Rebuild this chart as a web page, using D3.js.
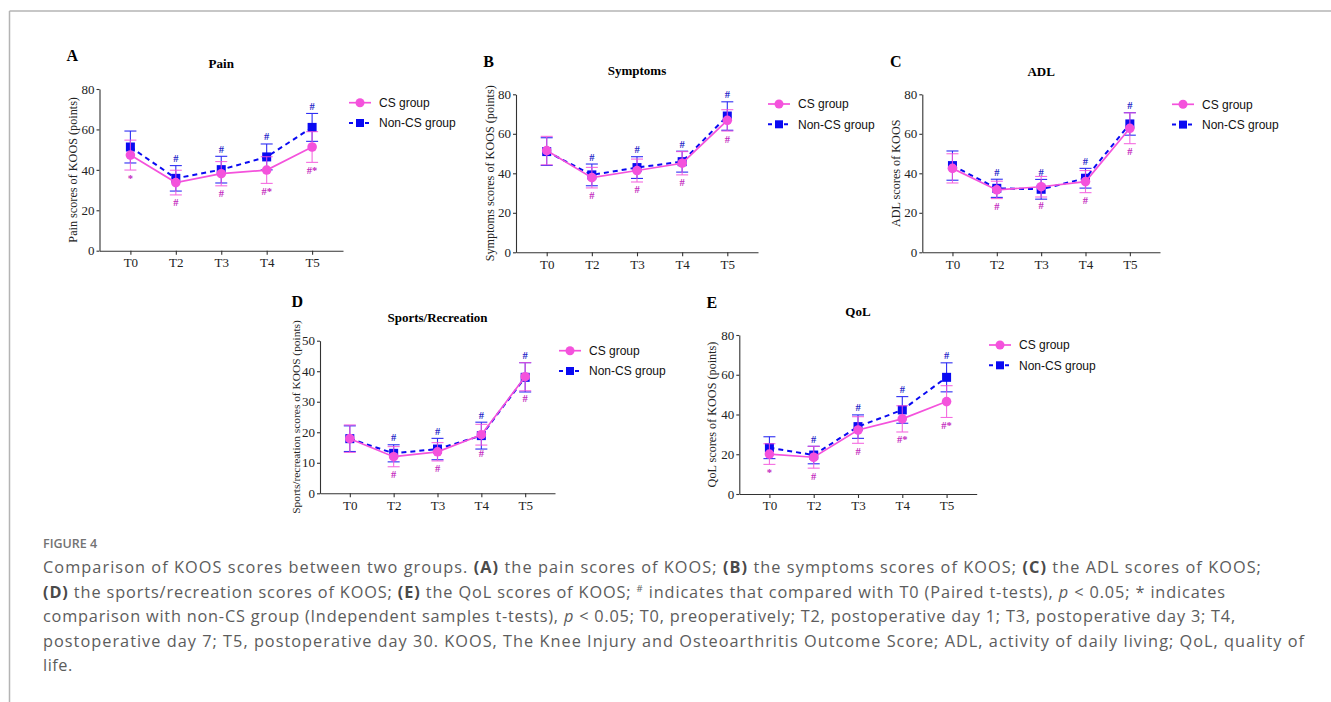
<html>
<head>
  <meta charset="utf-8">
  <script src="https://d3js.org/d3.v7.min.js"></script>
  <style>
    body { margin: 0; background: #fff; }
  </style>
  <script>
    // time points shared by all panels
    var times = ["T0", "T2", "T3", "T4", "T5"];
    var groups = ["CS group", "Non-CS group"];

    // A: pain
    var painCS = [47.3, 33.7, 38.1, 39.9, 51.3];
    var painCSsd = [7.4, 6.1, 6.0, 6.6, 7.6];
    var painNon = [51.3, 35.8, 40.1, 46.4, 61.0];
    var painNonSd = [7.9, 6.3, 6.6, 6.4, 6.9];
    var painCSmark = ["*", "#", "#", "#*", "#*"];
    var painNonMark = ["", "#", "#", "#", "#"];

    // B: symptoms
    var sympCS = [51.5, 37.8, 41.4, 45.1, 66.8];
    var sympCSsd = [7.2, 5.2, 5.8, 5.9, 5.4];
    var sympNon = [51.0, 39.2, 42.9, 45.9, 69.0];
    var sympNonSd = [7.0, 5.5, 5.5, 5.3, 7.2];
    var sympCSmark = ["", "#", "#", "#", "#"];
    var sympNonMark = ["", "#", "#", "#", "#"];

    // C: ADL
    var adlCS = [42.5, 31.6, 33.2, 35.8, 62.8];
    var adlCSsd = [7.4, 4.4, 5.2, 5.6, 7.8];
    var adlNon = [43.9, 32.4, 31.9, 37.5, 65.0];
    var adlNonSd = [7.4, 4.6, 5.0, 5.0, 5.7];
    var adlCSmark = ["", "#", "#", "#", "#"];
    var adlNonMark = ["", "#", "#", "#", "#"];

    // D: sports/recreation
    var sportCS = [17.9, 12.0, 13.6, 19.2, 38.2];
    var sportCSsd = [4.5, 3.3, 3.0, 3.4, 4.6];
    var sportNon = [17.9, 13.1, 14.5, 18.9, 38.0];
    var sportNonSd = [4.2, 2.8, 3.5, 4.4, 4.8];
    var sportCSmark = ["", "#", "#", "#", "#"];
    var sportNonMark = ["", "#", "#", "#", "#"];

    // E: QoL
    var qolCS = [20.1, 18.5, 32.2, 37.8, 46.5];
    var qolCSsd = [5.2, 5.5, 6.7, 6.6, 8.0];
    var qolNon = [23.3, 19.6, 33.9, 42.3, 58.7];
    var qolNonSd = [5.5, 4.4, 5.9, 6.7, 7.3];
    var qolCSmark = ["*", "#", "#", "#*", "#*"];
    var qolNonMark = ["", "#", "#", "#", "#"];

    var captionLines = [
      [["Comparison of KOOS scores between two groups. ", ""], ["(A)", "b"], [" the pain scores of KOOS; ", ""], ["(B)", "b"], [" the symptoms scores of KOOS; ", ""], ["(C)", "b"], [" the ADL scores of KOOS;", ""]],
      [["(D)", "b"], [" the sports/recreation scores of KOOS; ", ""], ["(E)", "b"], [" the QoL scores of KOOS; ", ""], ["#", "sup"], [" indicates that compared with T0 (Paired t-tests), ", "down"], ["p", "i"], [" < 0.05; * indicates", ""]],
      [["comparison with non-CS group (Independent samples t-tests), ", ""], ["p", "i"], [" < 0.05; T0, preoperatively; T2, postoperative day 1; T3, postoperative day 3; T4,", ""]],
      [["postoperative day 7; T5, postoperative day 30. KOOS, The Knee Injury and Osteoarthritis Outcome Score; ADL, activity of daily living; QoL, quality of", ""]],
      [["life.", ""]]
    ];
    // right edge of each caption line in the figure (null = natural width)
    var captionEnds = [1262, 1226, 1236, 1305, null];

    var pink = "#f452dc", blue = "#0a0af2";
    var pinkMark = "#c42cc0", blueMark = "#2626c8";
    var serif = "'Liberation Serif', 'Times New Roman', serif";
    var sans = "'Liberation Sans', Arial, sans-serif";

    function makeFigure() {
      var panels = [
        { letter: "A", title: "Pain", ylab: "Pain scores of KOOS (points)", yMax: 80, yStep: 20,
          cs: painCS, csSd: painCSsd, non: painNon, nonSd: painNonSd, csMk: painCSmark, nonMk: painNonMark,
          x0: 99.5, x1: 343, yTop: 89, yBot: 250.7, letterX: 66.5, letterY: 60.7, titleY: 68.3, labX: 77, lgX: 360, lgY: 102.7 },
        { letter: "B", title: "Symptoms", ylab: "Symptoms scores of KOOS (points)", yMax: 80, yStep: 20,
          cs: sympCS, csSd: sympCSsd, non: sympNon, nonSd: sympNonSd, csMk: sympCSmark, nonMk: sympNonMark,
          x0: 516, x1: 758, yTop: 94.3, yBot: 252.3, letterX: 483.3, letterY: 66.7, titleY: 74.5, labX: 493.5, lgX: 779, lgY: 104 },
        { letter: "C", title: "ADL", ylab: "ADL scores of KOOS", yMax: 80, yStep: 20,
          cs: adlCS, csSd: adlCSsd, non: adlNon, nonSd: adlNonSd, csMk: adlCSmark, nonMk: adlNonMark,
          x0: 922.3, x1: 1160, yTop: 94.3, yBot: 252.3, letterX: 890, letterY: 67.3, titleY: 76, labX: 900, lgX: 1183, lgY: 104.3 },
        { letter: "D", title: "Sports/Recreation", ylab: "Sports/recreation scores of KOOS (points)", yMax: 50, yStep: 10,
          cs: sportCS, csSd: sportCSsd, non: sportNon, nonSd: sportNonSd, csMk: sportCSmark, nonMk: sportNonMark,
          x0: 320, x1: 555, yTop: 340.7, yBot: 493.3, letterX: 291.5, letterY: 307, titleY: 322, labX: 300, lgX: 570, lgY: 350.7 },
        { letter: "E", title: "QoL", ylab: "QoL scores of KOOS (points)", yMax: 80, yStep: 20,
          cs: qolCS, csSd: qolCSsd, non: qolNon, nonSd: qolNonSd, csMk: qolCSmark, nonMk: qolNonMark,
          x0: 739.3, x1: 976.7, yTop: 335, yBot: 494, letterX: 706.5, letterY: 308, titleY: 316, labX: 715.5, lgX: 1000, lgY: 345 }
      ];

      var svg = d3.select("#fig");

      // frame lines top and left
      svg.append("line").attr("x1", 9.5).attr("x2", 1331).attr("y1", 11).attr("y2", 11)
        .attr("stroke", "#b4b4b4").attr("stroke-width", 1.5);
      svg.append("line").attr("x1", 9.5).attr("x2", 9.5).attr("y1", 11).attr("y2", 702)
        .attr("stroke", "#b4b4b4").attr("stroke-width", 1.5);

      panels.forEach(function(p) { drawPanel(svg, p); });

      // caption
      svg.append("text").attr("x", 43).attr("y", 548).text("FIGURE 4")
        .attr("font-family", "'Open Sans', sans-serif").attr("font-size", 12.5)
        .attr("font-weight", 600).attr("fill", "#737373");

      var baseY = [573, 597.5, 622, 646.5, 671];
      captionLines.forEach(function(line, i) {
        var t = svg.append("text").attr("x", 43).attr("y", baseY[i])
          .attr("font-family", "'Open Sans', sans-serif").attr("font-size", 16.3).attr("fill", "#5c5c5c");
        line.forEach(function(seg) {
          var s = t.append("tspan").text(seg[0]);
          if (seg[1] === "b") s.attr("font-weight", 700).attr("fill", "#4a4a4a");
          if (seg[1] === "i") s.attr("font-style", "italic");
          if (seg[1] === "sup") s.attr("font-size", 9.5).attr("dy", -6);
          if (seg[1] === "down") s.attr("dy", 6);
        });
        // stretch letter spacing so the line spans the same width as in the figure
        var ls = 0.55;
        if (captionEnds[i]) {
          var w = t.node().getComputedTextLength();
          ls = (captionEnds[i] - 43 - w) / t.text().length;
        }
        t.attr("letter-spacing", ls);
      });
    }

    function drawPanel(svg, p) {
      var x = d3.scalePoint().domain(times).range([p.x0, p.x1]).padding(0.68);
      var y = d3.scaleLinear().domain([0, p.yMax]).range([p.yBot, p.yTop]);
      var g = svg.append("g");

      // panel letter and title
      g.append("text").attr("x", p.letterX).attr("y", p.letterY).text(p.letter)
        .attr("font-family", serif).attr("font-weight", 700).attr("font-size", 16);
      g.append("text").attr("x", (p.x0 + p.x1) / 2).attr("y", p.titleY).text(p.title)
        .attr("text-anchor", "middle").attr("font-family", serif).attr("font-weight", 700).attr("font-size", 13);
      g.append("text").attr("transform", "translate(" + p.labX + "," + (p.yTop + p.yBot) / 2 + ") rotate(-90)")
        .attr("text-anchor", "middle").attr("font-family", serif).attr("font-size", p.letter === "D" ? 11.4 : 12.2)
        .attr("fill", "#222").text(p.ylab);

      // axes
      var ya = g.append("g").attr("transform", "translate(" + p.x0 + ",0)")
        .call(d3.axisLeft(y).tickValues(d3.range(0, p.yMax + 1, p.yStep)).tickSize(3).tickSizeOuter(0).tickPadding(2));
      var xa = g.append("g").attr("transform", "translate(0," + p.yBot + ")")
        .call(d3.axisBottom(x).tickSize(4).tickSizeOuter(0).tickPadding(3));
      [ya, xa].forEach(function(a) {
        a.attr("font-family", serif).attr("font-size", 13);
        a.selectAll("path, line").attr("stroke", "#333").attr("stroke-width", 1.1);
        a.selectAll("text").attr("fill", "#222");
      });

      var series = [
        { mean: p.non, sd: p.nonSd, mk: p.nonMk, color: blue, mcol: blueMark, dash: "5,4", above: true, sq: true },
        { mean: p.cs, sd: p.csSd, mk: p.csMk, color: pink, mcol: pinkMark, dash: null, above: false, sq: false }
      ];

      series.forEach(function(s) {
        var pts = times.map(function(t, i) { return { t: t, m: s.mean[i], sd: s.sd[i], mk: s.mk[i] }; });
        var sg = g.append("g");

        // error bars
        var eb = sg.selectAll(".eb").data(pts).enter().append("g").attr("stroke", s.color).attr("stroke-width", 1.1).attr("opacity", 0.85);
        eb.append("line").attr("x1", d => x(d.t)).attr("x2", d => x(d.t))
          .attr("y1", d => y(d.m + d.sd)).attr("y2", d => y(d.m - d.sd));
        eb.append("line").attr("x1", d => x(d.t) - 6).attr("x2", d => x(d.t) + 6)
          .attr("y1", d => y(d.m + d.sd)).attr("y2", d => y(d.m + d.sd));
        eb.append("line").attr("x1", d => x(d.t) - 6).attr("x2", d => x(d.t) + 6)
          .attr("y1", d => y(d.m - d.sd)).attr("y2", d => y(d.m - d.sd));

        var line = d3.line().x(d => x(d.t)).y(d => y(d.m));
        sg.append("path").attr("d", line(pts)).attr("fill", "none").attr("stroke", s.color)
          .attr("stroke-width", s.sq ? 2 : 1.7).attr("stroke-dasharray", s.dash);

        if (s.sq) {
          sg.selectAll("rect").data(pts).enter().append("rect")
            .attr("x", d => x(d.t) - 4.5).attr("y", d => y(d.m) - 4.5).attr("width", 9).attr("height", 9).attr("fill", s.color);
        } else {
          sg.selectAll("circle").data(pts).enter().append("circle")
            .attr("cx", d => x(d.t)).attr("cy", d => y(d.m)).attr("r", 4.8).attr("fill", s.color);
        }

        // significance marks
        sg.selectAll(".mk").data(pts.filter(d => d.mk)).enter().append("text")
          .attr("x", d => x(d.t)).attr("text-anchor", "middle")
          .attr("y", d => s.above ? y(d.m + d.sd) - 3.5 : y(d.m - d.sd) + 11.5)
          .attr("font-family", serif).attr("font-size", 10.5).attr("font-weight", 700).attr("fill", s.mcol)
          .text(d => d.mk);
      });

      // legend
      var lg = g.append("g");
      groups.forEach(function(name, i) {
        var yy = p.lgY + i * 20.3;
        var r = lg.append("g");
        if (i === 0) {
          r.append("line").attr("x1", p.lgX - 11).attr("x2", p.lgX + 11).attr("y1", yy).attr("y2", yy)
            .attr("stroke", pink).attr("stroke-width", 1.7);
          r.append("circle").attr("cx", p.lgX).attr("cy", yy).attr("r", 4.5).attr("fill", pink);
        } else {
          r.append("line").attr("x1", p.lgX - 11).attr("x2", p.lgX + 11).attr("y1", yy).attr("y2", yy)
            .attr("stroke", blue).attr("stroke-width", 2).attr("stroke-dasharray", "4,4");
          r.append("rect").attr("x", p.lgX - 4).attr("y", yy - 4).attr("width", 8).attr("height", 8).attr("fill", blue);
        }
        r.append("text").attr("x", p.lgX + 19).attr("y", yy + 4.3).text(name)
          .attr("font-family", sans).attr("font-size", 12).attr("fill", "#111");
      });
    }
  </script>
</head>

<body onload="makeFigure()">
  <svg id="fig" width="1331" height="702" style="background:#fff; display:block"></svg>
</body>
</html>
